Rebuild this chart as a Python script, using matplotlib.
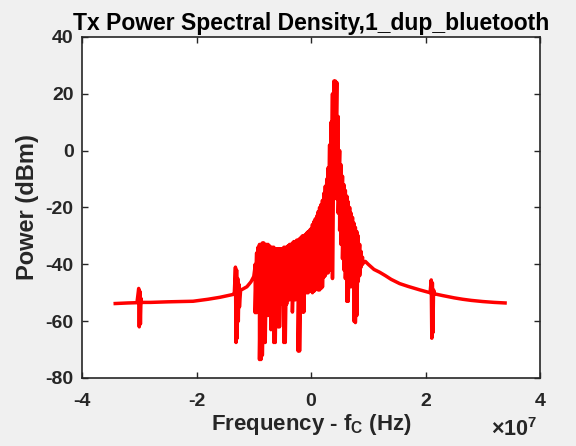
import matplotlib
matplotlib.use("Agg")
import matplotlib.pyplot as plt

# ---------------- data (frequency in units of 1e7 Hz, power in dBm) ----------------
FREQ_UNIT = 1e7

left_f = [-3.42, -3.2, -3.04, -3.01, -3.0, -2.99, -2.98, -2.97, -2.96, -2.8, -2.5,
          -2.06, -1.8, -1.59, -1.45, -1.36, -1.34, -1.32, -1.31, -1.30, -1.29, -1.28,
          -1.27, -1.26, -1.25, -1.23, -1.2, -1.12, -1.05, -1.0, -0.985]
left_p = [-53.8, -53.6, -53.5, -48.5, -62.0, -49.5, -61.0, -52.0, -53.4, -53.4, -53.2,
          -53.0, -52.3, -51.6, -51.0, -50.6, -50.3, -41.0, -67.5, -42.0, -66.0, -45.0,
          -60.0, -47.0, -55.0, -49.0, -48.8, -47.9, -46.2, -44.3, -42.0]

noise_f = [-0.975, -0.95, -0.925, -0.9, -0.875, -0.85, -0.825, -0.8, -0.775, -0.75,
           -0.725, -0.7, -0.675, -0.65, -0.625, -0.6, -0.575, -0.55, -0.525, -0.5,
           -0.475, -0.45, -0.425, -0.4, -0.375, -0.35, -0.325, -0.3, -0.275, -0.25,
           -0.225, -0.2, -0.175, -0.15, -0.125, -0.1, -0.075, -0.05, -0.025, 0.0,
           0.025, 0.05, 0.075, 0.1, 0.125, 0.15, 0.175, 0.2, 0.225, 0.25,
           0.275, 0.3, 0.325, 0.35, 0.375, 0.4, 0.425, 0.45, 0.475, 0.5,
           0.525, 0.55, 0.575, 0.6, 0.625, 0.65, 0.675, 0.7, 0.725, 0.75,
           0.775, 0.8, 0.825, 0.85, 0.875, 0.9, 0.925]
noise_hi = [-40, -36, -34, -33, -33, -32.5, -32.5, -33, -33, -33,
            -33.5, -34, -34, -34, -34.5, -34.5, -34.5, -34.5, -34.5, -34.5,
            -34, -34, -34, -33.5, -33, -33, -32.5, -32, -32, -31.5,
            -31.5, -31, -30.5, -30, -30, -29.5, -29, -28.5, -28, -27.5,
            -26, -25, -24, -23, -21.5, -20, -19, -17.5, -15, -12.5,
            -10, -6, 2, 10, 20, 24.5, 24.5, 24, 12, 0,
            -5, -9, -12, -14, -16, -18, -20, -22, -23.5, -25.5,
            -27, -28.5, -30, -33, -35.5, -37.5, -39]
noise_lo = [-57, -57, -54, -73.5, -73.5, -72, -67.5, -67.5, -58, -58,
            -54, -63, -55, -67.5, -67.5, -55, -62, -62, -53, -54,
            -67.5, -67.5, -54, -52.5, -52.5, -51, -56.8, -51, -52.5, -52,
            -70.5, -70.5, -54, -56.8, -56.8, -50, -50, -50, -49.5, -49.5,
            -50, -49.5, -49, -48, -49, -49, -48.5, -48, -44.5, -44,
            -43, -43, -42, -42, -45, -17, -14, -17, -22, -28,
            -33, -38, -42, -45, -53, -53, -48, -46, -48, -60,
            -60.5, -58, -46, -44, -41, -40, -39]

right_f = [0.95, 1.0, 1.1, 1.2, 1.3, 1.4, 1.55, 1.7, 1.9, 2.08, 2.10, 2.11, 2.12,
           2.13, 2.14, 2.16, 2.3, 2.5, 2.65, 2.8, 3.0, 3.2, 3.39]
right_p = [-39.0, -40.0, -41.8, -42.8, -44.0, -45.3, -46.8, -47.8, -49.0, -50.0,
           -45.5, -66.0, -46.5, -64.0, -49.0, -50.4, -51.0, -51.8, -52.3, -52.7,
           -53.1, -53.4, -53.6]

x_ticks = [-4, -2, 0, 2, 4]
y_ticks = [-80, -60, -40, -20, 0, 20, 40]

# ---------------- build the trace ----------------
trace_f = list(left_f)
trace_p = list(left_p)
for f, hi, lo in zip(noise_f, noise_hi, noise_lo):
    trace_f += [f, f]
    trace_p += [hi, lo]
trace_f += right_f
trace_p += right_p
trace_hz = [f * FREQ_UNIT for f in trace_f]

# ---------------- style ----------------
TXT = "#262626"
plt.rcParams["font.family"] = ["Liberation Sans", "DejaVu Sans"]
plt.rcParams["font.weight"] = "bold"
plt.rcParams["mathtext.fontset"] = "custom"
plt.rcParams["mathtext.rm"] = "Liberation Sans:bold"
plt.rcParams["mathtext.it"] = "Liberation Sans:bold"
plt.rcParams["mathtext.bf"] = "Liberation Sans:bold"

fig = plt.figure(figsize=(5.76, 4.46), dpi=100, facecolor="#f0f0f0")
ax = fig.add_axes([0.1424, 0.1525, 0.7951, 0.7646])
ax.set_facecolor("white")

ax.plot(trace_hz, trace_p, color="#ff0000", linewidth=2.5, solid_joinstyle="round")

ax.set_xlim(-4 * FREQ_UNIT, 4 * FREQ_UNIT)
ax.set_ylim(-80, 40)
ax.set_xticks([t * FREQ_UNIT for t in x_ticks])
ax.set_xticklabels([str(t) for t in x_ticks])
ax.set_yticks(y_ticks)
ax.set_yticklabels([str(t) for t in y_ticks])

ax.tick_params(direction="in", top=True, right=True, length=4, width=1.0,
               colors=TXT, labelsize=14)
ax.tick_params(axis="x", pad=11)
ax.tick_params(axis="y", pad=6)
for lbl in ax.get_xticklabels() + ax.get_yticklabels():
    lbl.set_fontweight("bold")
for s in ax.spines.values():
    s.set_color(TXT)
    s.set_linewidth(1.2)

ax.set_title("Tx Power Spectral Density,1_dup_bluetooth", fontsize=16.5,
             fontweight="bold", color="black", pad=5)
ax.set_xlabel("Frequency - f$_\\mathrm{C}$ (Hz)", fontsize=16, fontweight="bold",
              color=TXT, labelpad=1)
ax.set_ylabel("Power (dBm)", fontsize=17, fontweight="bold", color=TXT, labelpad=4.5)

fig.text(0.853, 0.022, "\u00d710$^{7}$", fontsize=15.5, fontweight="bold", color=TXT)

fig.savefig("out.png", dpi=100, facecolor=fig.get_facecolor())
